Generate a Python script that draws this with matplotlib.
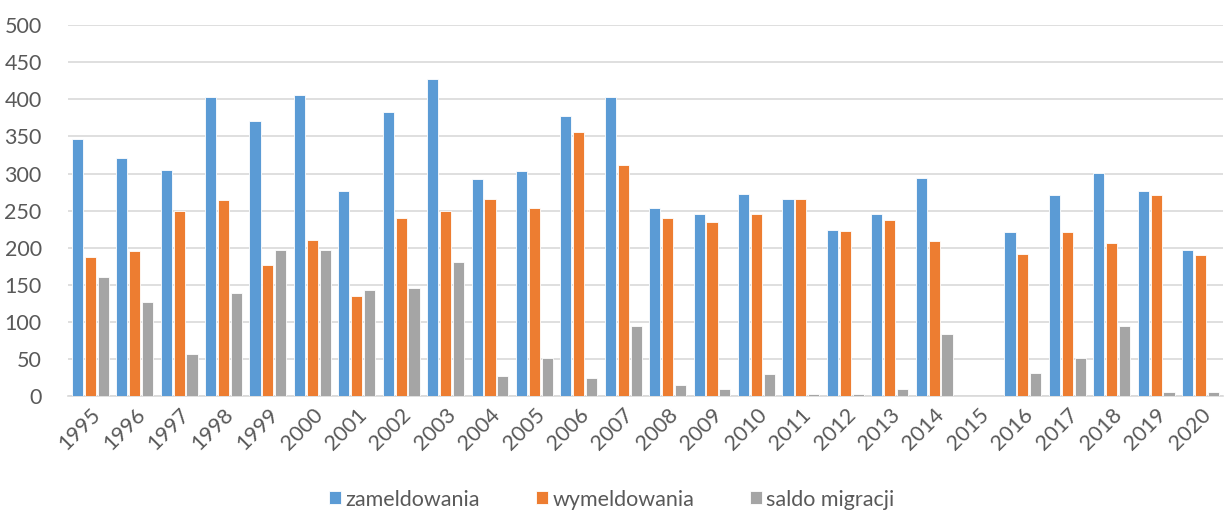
import numpy as np
import matplotlib
matplotlib.use('Agg')
from matplotlib import pyplot as plt

plt.rcParams['font.family'] = ['Lato', 'DejaVu Sans']

years = [str(y) for y in range(1995, 2021)]
zameldowania = [347, 321, 305, 403, 371, 406, 276, 383, 428, 292, 304, 378, 403,
                254, 245, 273, 266, 224, 245, 294, 0, 221, 271, 301, 276, 197]
wymeldowania = [188, 195, 250, 264, 176, 211, 135, 240, 249, 266, 254, 356, 311,
                240, 235, 245, 266, 222, 238, 209, 0, 191, 221, 207, 271, 190]
saldo = [160, 127, 56, 139, 197, 197, 143, 145, 181, 27, 51, 24, 95,
         15, 9, 29, 2, 2, 9, 84, 0, 31, 51, 95, 6, 6]

fig = plt.figure(figsize=(12.24, 5.16), dpi=100)
ax = fig.add_axes([0.0556, 0.2326, 0.9434, 0.7184])

x = np.arange(len(years))
w = 0.25
off = 0.29
ax.bar(x - off, zameldowania, w, color='#5B9BD5', edgecolor='white', linewidth=0.6,
       label='zameldowania', zorder=3)
ax.bar(x, wymeldowania, w, color='#ED7D31', edgecolor='white', linewidth=0.6,
       label='wymeldowania', zorder=3)
ax.bar(x + off, saldo, w, color='#A5A5A5', edgecolor='white', linewidth=0.6,
       label='saldo migracji', zorder=3)

ax.set_xlim(-0.5, len(years) - 0.5)
ax.set_ylim(0, 500)
ax.set_yticks(range(0, 501, 50))
ax.yaxis.grid(True, color='#D9D9D9', linewidth=1.2, zorder=0)
ax.set_axisbelow(True)
for s in ['top', 'right', 'left']:
    ax.spines[s].set_visible(False)
ax.spines['bottom'].set_color('#D9D9D9')
ax.spines['bottom'].set_linewidth(1.2)
ax.tick_params(length=0, colors='#595959', labelsize=15.5)
ax.tick_params(axis='y', pad=19)
ax.tick_params(axis='x', pad=6)
ax.set_xticks(x)
ax.set_xticklabels(years, rotation=45, ha='right', rotation_mode='anchor')

fig.legend(loc='lower center', ncol=3, frameon=False, fontsize=15.5,
           bbox_to_anchor=(0.5, -0.025), handlelength=0.55, handleheight=0.55,
           handletextpad=0.2, columnspacing=2.6, labelcolor='#595959')

fig.savefig('out.png', dpi=100)
